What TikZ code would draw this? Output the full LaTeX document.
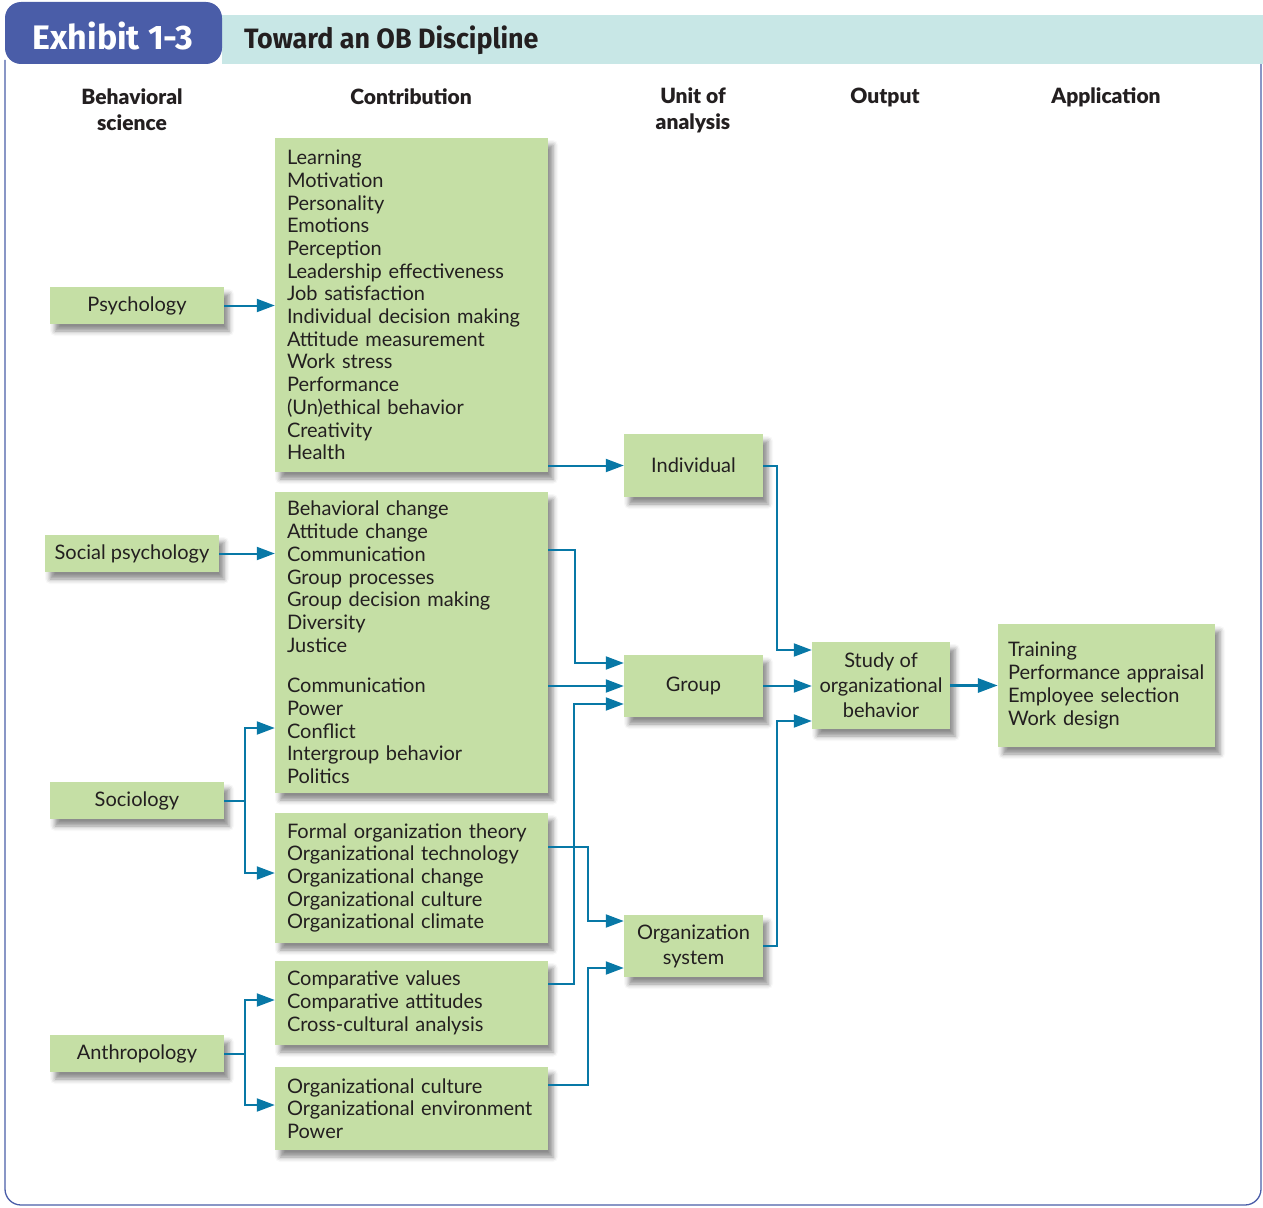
\documentclass[tikz,border=0pt]{standalone}
\usepackage{fontspec}
\setmainfont{Lato}
\newfontfamily\headfont{Lato Black}
\newfontfamily\exhibitfont{Fira Sans}
\newfontfamily\titlefont[FakeStretch=0.96]{Fira Sans}
\usetikzlibrary{arrows.meta,shadows.blur,calc}

\definecolor{tabblue}{RGB}{74,93,168}
\definecolor{bandteal}{RGB}{200,231,230}
\definecolor{boxgreen}{RGB}{197,223,165}
\definecolor{arrowblue}{RGB}{8,120,166}
\definecolor{inkdark}{RGB}{35,31,32}

\tikzset{
  box/.style={fill=boxgreen, inner sep=0pt, text=inkdark,
    font=\fontsize{20}{22.7}\selectfont,
    blur shadow={shadow xshift=5pt, shadow yshift=-7pt,
      shadow blur radius=5pt, shadow opacity=45}},
  srcbox/.style={box, minimum width=174pt, minimum height=37pt},
  listbox/.style={box, text width=249pt, inner xsep=12pt, align=left,
    minimum width=273pt},
  unitbox/.style={box, minimum width=139pt, align=center,
    font=\fontsize{20}{25}\selectfont},
  colhead/.style={text=inkdark, align=center,
    font=\headfont\fontsize{21}{26}\selectfont},
  arr/.style={draw=arrowblue, line width=2pt,
    -{Triangle[length=18pt,width=13pt]}},
  arrthick/.style={draw=arrowblue, line width=3pt,
    -{Triangle[length=20pt,width=14pt]}},
  frameline/.style={draw=tabblue, line width=1.3pt}
}

\begin{document}
\begin{tikzpicture}[x=1pt,y=-1pt]
\useasboundingbox (0,0) rectangle (1263,1207);

% outer frame and title bar
\draw[frameline, rounded corners=16pt] (5,60) -- (5,1205) -- (1261,1205) -- (1261,60);
\fill[bandteal] (222,15) rectangle (1263,64);
\fill[tabblue, rounded corners=16pt] (5,64) -- (5,2) -- (222,2) -- (222,64) -- cycle;
\node[text=white, font=\exhibitfont\bfseries\fontsize{34}{36}\selectfont] (exhibit) at (113,36) {Exhibit 1-3};
\node[anchor=west, text=inkdark, inner sep=0pt, font=\titlefont\bfseries\fontsize{28}{30}\selectfont] (title) at (244,40) {Toward an OB Discipline};

% column headings
\node[colhead] (hbeh) at (132,110) {Behavioral\\science};
\node[colhead] (hcon) at (411,97) {Contribution};
\node[colhead] (hunit) at (693,110) {Unit of\\analysis};
\node[colhead] (hout) at (885,97) {Output};
\node[colhead] (happ) at (1106,97) {Application};

% behavioral sciences
\node[srcbox] (psych)  at (137,305.5)  {Psychology};
\node[srcbox] (socpsy) at (132,553.5)  {Social psychology};
\node[srcbox] (soc)    at (137,800.5)  {Sociology};
\node[srcbox] (anth)   at (137,1053.5) {Anthropology};

% contributions
\node[listbox, minimum height=334pt] (psybox) at (411.5,305) {Learning\\Motivation\\Personality\\Emotions\\Perception\\Leadership effectiveness\\Job satisfaction\\Individual decision making\\Attitude measurement\\Work stress\\Performance\\(Un)ethical behavior\\Creativity\\Health};
\node[listbox, minimum height=301pt] (cbox) at (411.5,642.5) {Behavioral change\\Attitude change\\Communication\\Group processes\\Group decision making\\Diversity\\Justice\\[18pt]Communication\\Power\\Conflict\\Intergroup behavior\\Politics};
\node[listbox, minimum height=130pt] (fobox) at (411.5,878) {Formal organization theory\\Organizational technology\\Organizational change\\Organizational culture\\Organizational climate};
\node[listbox, minimum height=84pt] (compbox) at (411.5,1003) {Comparative values\\Comparative attitudes\\Cross-cultural analysis};
\node[listbox, minimum height=83pt] (cultbox) at (411.5,1108.5) {Organizational culture\\Organizational environment\\Power};

% units of analysis
\node[unitbox, minimum height=63pt] (indiv)  at (693.5,465.5) {Individual};
\node[unitbox, minimum height=62pt] (group)  at (693.5,686)   {Group};
\node[unitbox, minimum height=62pt] (orgsys) at (693.5,946)   {Organization\\system};

% output and application
\node[unitbox, minimum width=138pt, minimum height=87pt] (study) at (881,685.5) {Study of\\organizational\\behavior};
\node[box, text width=197pt, inner xsep=10pt, align=left, minimum width=217pt, minimum height=123pt] (app) at (1106.5,685.5) {Training\\Performance appraisal\\Employee selection\\Work design};

% sciences to contributions
\draw[arr] (psych.east) -- (psybox.west |- psych.east);
\draw[arr] (socpsy.east) -- (cbox.west |- socpsy.east);
\draw[arr] (soc.east) -- ++(21,0) |- (cbox.west |- 0,728);
\draw[arr] (soc.east) -- ++(21,0) |- (fobox.west |- 0,873);
\draw[arr] (anth.east) -- ++(21,0) |- (compbox.west |- 0,1000);
\draw[arr] (anth.east) -- ++(21,0) |- (cultbox.west |- 0,1105);

% contributions to units
\draw[arr] (psybox.east |- indiv.west) -- (indiv.west);
\draw[arr] (cbox.east |- 0,550) -- (575,550) |- (group.west |- 0,663);
\draw[arr] (cbox.east |- group.west) -- (group.west);
\draw[arr] (compbox.east |- 0,984) -- (574,984) |- (group.west |- 0,704);
\draw[arr] (fobox.east |- 0,847) -- (588,847) |- (orgsys.west |- 0,921);
\draw[arr] (cultbox.east |- 0,1085) -- (588,1085) |- (orgsys.west |- 0,968);

% units to output, output to application
\draw[arr] (indiv.east) -- ++(14,0) |- (study.west |- 0,650);
\draw[arr] (group.east) -- (study.west |- group.east);
\draw[arr] (orgsys.east) -- ++(14,0) |- (study.west |- 0,721);
\draw[arrthick] (study.east) -- (app.west |- study.east);
\end{tikzpicture}
\end{document}
